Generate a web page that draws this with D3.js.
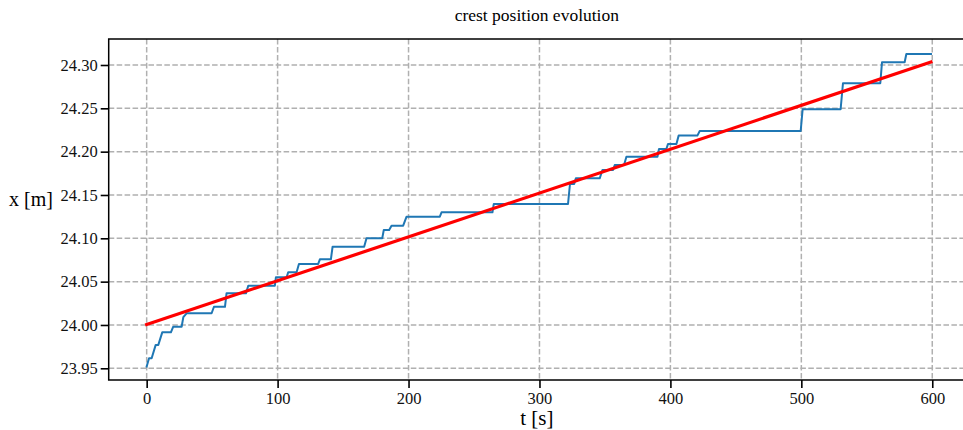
<!DOCTYPE html>
<html>
<head>
<meta charset="utf-8">
<script src="https://cdn.jsdelivr.net/npm/d3@7"></script>
<style>
  html, body { margin: 0; padding: 0; background: #fff; }
  svg { display: block; }
</style>
</head>
<body>
<svg id="chart" width="963" height="430"></svg>
<script>
// ---- data ----
const tValues = [0, 1.8, 3.8, 6.9, 8.9, 11.9, 18.5, 20.3, 26.7, 28, 30.5, 49.6, 51.4, 59.8, 61,
  75.8, 77.6, 97.9, 98.7, 106.9, 108.1, 114.5, 116.3, 131, 132.3, 140.7, 142, 166.1, 167.9,
  179.9, 181.1, 185.2, 187, 195.9, 198.5, 223.9, 225.2, 264.1, 265.1, 321.8, 323.3, 326.5, 327.8,
  346, 348.1, 356.2, 357.5, 364.6, 366.4, 390.1, 391.3, 396.9, 398.2, 404.6, 406.3, 420.6, 422.4,
  499.5, 501, 530, 531.8, 560.3, 561.6, 578.9, 580.2, 599];
const xValues = [23.952, 23.9615, 23.9615, 23.977, 23.977, 23.9915, 23.9915, 23.998, 23.998, 24.009, 24.0135, 24.0135, 24.021, 24.021, 24.0365,
  24.0365, 24.0453, 24.0453, 24.055, 24.055, 24.0608, 24.0608, 24.0704, 24.0704, 24.0758, 24.0758, 24.0903, 24.0903, 24.100,
  24.100, 24.1096, 24.1096, 24.1146, 24.1146, 24.125, 24.125, 24.130, 24.130, 24.1396, 24.1396, 24.1627, 24.1627, 24.1692,
  24.1692, 24.1788, 24.1788, 24.1846, 24.1846, 24.1942, 24.1942, 24.2031, 24.2031, 24.2089, 24.2089, 24.2185, 24.2185, 24.2238,
  24.2238, 24.2489, 24.2489, 24.2789, 24.2789, 24.3031, 24.3031, 24.3127, 24.3127];
const fitT = [0, 599];
const fitX = [24.0005, 24.3035];
const xTicks = [0, 100, 200, 300, 400, 500, 600];
const yTicks = [23.95, 24.00, 24.05, 24.10, 24.15, 24.20, 24.25, 24.30];
const titleText = "crest position evolution";
const xLabel = "t [s]";
const yLabel = "x [m]";

const FONT = '"Liberation Serif"';

// ---- layout ----
const svg = d3.select("#chart");
const mLeft = 108.7, mTop = 39, mBottom = 380, mRight = 965;
const x = d3.scaleLinear().domain([-29.0, 625]).range([mLeft, mRight]);
const y = d3.scaleLinear().domain([23.9365, 24.33]).range([mBottom, mTop]);

// grid
const grid = svg.append("g");
grid.selectAll("line.gx").data(xTicks).join("line")
  .attr("x1", d => x(d)).attr("x2", d => x(d)).attr("y1", mTop).attr("y2", mBottom)
  .attr("stroke", "#b0b0b0").attr("stroke-width", 1.5).attr("stroke-dasharray", "5.55,2.4");
grid.selectAll("line.gy").data(yTicks).join("line")
  .attr("x1", mLeft).attr("x2", mRight).attr("y1", d => y(d)).attr("y2", d => y(d))
  .attr("stroke", "#b0b0b0").attr("stroke-width", 1.5).attr("stroke-dasharray", "5.55,2.4");

// data line
const pts = tValues.map((t, i) => [t, xValues[i]]);
const line = d3.line().x(d => x(d[0])).y(d => y(d[1]));
svg.append("path").datum(pts).attr("d", line)
  .attr("fill", "none").attr("stroke", "#1f77b4").attr("stroke-width", 2)
  .attr("stroke-linejoin", "round").attr("stroke-linecap", "square");

// fit line
svg.append("path").datum(fitT.map((t, i) => [t, fitX[i]])).attr("d", line)
  .attr("fill", "none").attr("stroke", "#ff0000").attr("stroke-width", 3.2)
  .attr("stroke-linecap", "square");

// axes
const xAxis = d3.axisBottom(x).tickValues(xTicks).tickFormat(d3.format("d")).tickSize(8).tickPadding(4);
const yAxis = d3.axisLeft(y).tickValues(yTicks).tickFormat(d3.format(".2f")).tickSize(8).tickPadding(3);
const gx = svg.append("g").attr("transform", `translate(0,${mBottom})`).call(xAxis);
const gy = svg.append("g").attr("transform", `translate(${mLeft},0)`).call(yAxis);
[gx, gy].forEach(g => {
  g.select(".domain").remove();
  g.attr("font-family", null).attr("font-size", null);
  g.selectAll(".tick line").attr("stroke", "#000").attr("stroke-width", 1.6);
  g.selectAll(".tick text").attr("fill", "#111").style("font-size", "16.5px").style("font-family", FONT);
});

// spines (right spine is off-canvas)
svg.append("rect").attr("x", mLeft).attr("y", mTop).attr("width", mRight - mLeft).attr("height", mBottom - mTop)
  .attr("fill", "none").attr("stroke", "#000").attr("stroke-width", 1.5);

// labels
svg.append("text").attr("x", (mLeft + mRight) / 2).attr("y", 21).attr("text-anchor", "middle")
  .style("font-size", "17.5px").style("font-family", FONT).attr("fill", "#000").text(titleText);
svg.append("text").attr("x", (mLeft + mRight) / 2).attr("y", 425).attr("text-anchor", "middle")
  .style("font-size", "21px").style("font-family", FONT).attr("fill", "#000").text(xLabel);
svg.append("text").attr("x", 9).attr("y", 206).attr("text-anchor", "start")
  .style("font-size", "20px").style("font-family", FONT).attr("fill", "#000").text(yLabel);
</script>
</body>
</html>
